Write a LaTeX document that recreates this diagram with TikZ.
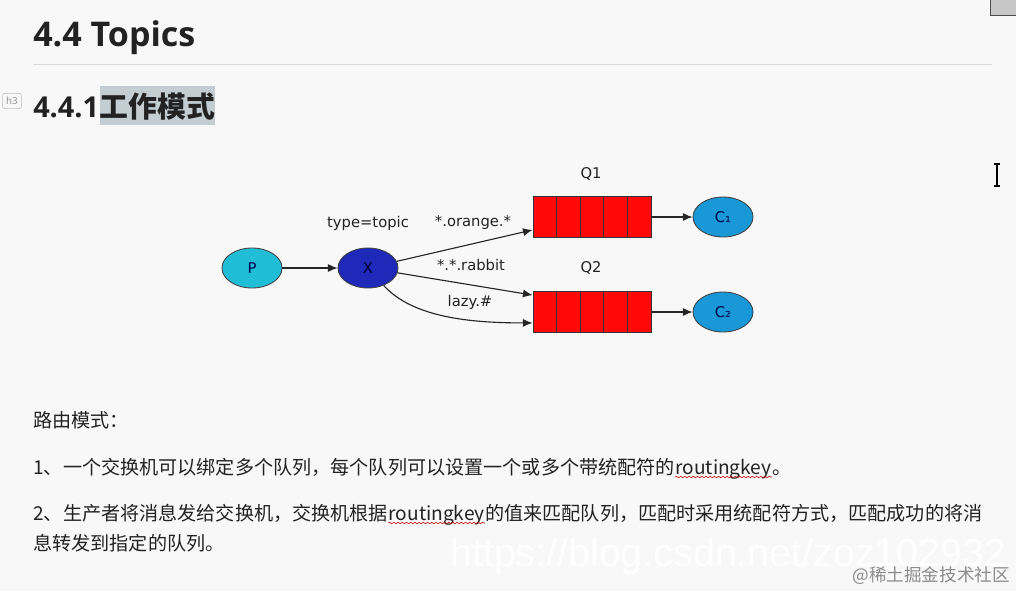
\documentclass[tikz,border=0pt]{standalone}
\usepackage{fontspec}
\setmainfont{Open Sans}
\newfontfamily\cjkfont{Noto Sans CJK SC}
\newfontfamily\diafont{DejaVu Sans}
\newfontfamily\wmfont{Liberation Sans}
\usepackage{tikz}
\usetikzlibrary{arrows,arrows.meta,shapes,calc,decorations.pathmorphing}
\usepackage{xcolor}
\definecolor{pagebg}{RGB}{248,248,248}
\definecolor{hlgray}{RGB}{196,205,210}
\definecolor{pcol}{RGB}{32,190,214}
\definecolor{xcol}{RGB}{30,40,185}
\definecolor{ccol}{RGB}{24,152,214}
\definecolor{qred}{RGB}{255,8,8}
\definecolor{inkcol}{RGB}{34,34,34}

\begin{document}
\begin{tikzpicture}[x=0.25mm, y=-0.25mm, >={Latex[length=2.4mm,width=2mm]},
  main node/.style={ellipse, draw=black!75, line width=0.6pt, minimum width=15mm, minimum height=10mm, inner sep=0pt, font=\diafont\fontsize{10.5}{12}\selectfont},
  queue/.style={rectangle, draw=black!80, line width=0.6pt, fill=qred, minimum width=29.5mm, minimum height=10.25mm, inner sep=0pt},
  lbl/.style={font=\diafont\fontsize{10.5}{13}\selectfont, text=inkcol, inner sep=0pt},
  head/.style={font=\bfseries\fontsize{24.2}{28}\selectfont, text=inkcol, anchor=base west, inner sep=0pt},
  subhead/.style={font=\bfseries\fontsize{20.5}{25}\selectfont, text=inkcol, anchor=base west, inner sep=0pt},
  line/.style={font=\cjkfont\fontsize{13.6}{16}\selectfont, text=inkcol, anchor=base west, inner sep=0pt},
  squiggle/.style={red!75!black, line width=0.4pt, decorate, decoration={snake, amplitude=0.5pt, segment length=3pt}}]
\useasboundingbox[fill=pagebg] (0,0) rectangle (1016,591);

% page header
\node[head] (h44) at (33,46) {4.4 Topics};
\draw[black!15, line width=0.6pt] (33,64) -- (992,64);
\node[draw=black!25, rounded corners=1.5pt, minimum width=4.7mm, minimum height=3.8mm, inner sep=0pt, text=black!45, font=\fontsize{7}{8}\selectfont] (tag) at (12,101) {h3};
\node[subhead] (h441) at (33,117) {4.4.1};
\node[subhead, font=\cjkfont\bfseries\fontsize{20.5}{25}\selectfont, fill=hlgray, text height=7.75mm, text depth=2mm] (hcn) at (h441.base east) {工作模式};

% window bits
\draw[fill=black!22, draw=black!70, line width=0.6pt] (990,-2) rectangle (1018,15);
\draw[line width=1pt] (997,165) -- (997,185) (994,164) -- (1000,164) (994,186) -- (1000,186);

% diagram
\node[main node, fill=pcol, text=black!70!blue] (p) at (252,268) {P};
\node[main node, fill=xcol, text=black!80!blue] (x) at (368,268) {X};
\node[queue] (q1) at (592,217) {};
\node[queue] (q2) at (592,312) {};
\foreach \q in {q1,q2}{
  \foreach \i in {1,...,4}{
    \draw[black!80, line width=0.6pt] ($(\q.north west)!\i/5!(\q.north east)$) -- ($(\q.south west)!\i/5!(\q.south east)$);
  }
}
\node[main node, fill=ccol, text=black!70!blue] (c1) at (723,217) {C₁};
\node[main node, fill=ccol, text=black!70!blue] (c2) at (723,312) {C₂};
\coordinate (q1in) at ($(q1.south west)+(0,-8)$);
\coordinate (q2top) at ($(q2.north west)+(0,4)$);
\coordinate (q2bot) at ($(q2.south west)+(0,-10)$);

\node[lbl] (tt) at (368,223) {type=topic};
\node[lbl] (k1) at (473,223) {*.orange.*};
\node[lbl] (k2) at (471,265) {*.*.rabbit};
\node[lbl] (k3) at (470,302) {lazy.\#};
\node[lbl] (l1) at (591,174) {Q1};
\node[lbl] (l2) at (591,268) {Q2};

\path[->, black!85, line width=0.8pt]
(p) edge (x)
(x) edge (q1in)
(x) edge (q2top)
(q1) edge (c1)
(q2) edge (c2);
\draw[->, black!85, line width=0.8pt] (x) .. controls +(45,50) and +(-60,0) .. (q2bot);

% text below
\node[line] (t0) at (33,427) {路由模式：};
\node[line] (t1a) at (33,474) {1、一个交换机可以绑定多个队列，每个队列可以设置一个或多个带统配符的};
\node[line] (t1b) at (t1a.base east) {routingkey};
\node[line] (t1c) at (t1b.base east) {。};
\node[line] (t2a) at (33,520) {2、生产者将消息发给交换机，交换机根据};
\node[line] (t2b) at (t2a.base east) {routingkey};
\node[line] (t2c) at (t2b.base east) {的值来匹配队列，匹配时采用统配符方式，匹配成功的将消};
\node[line] (t3) at (33,550) {息转发到指定的队列。};
\draw[squiggle] ($(t1b.base west)+(0,3)$) -- ($(t1b.base east)+(0,3)$);
\draw[squiggle] ($(t2b.base west)+(0,3)$) -- ($(t2b.base east)+(0,3)$);

% watermarks
\node[anchor=base west, inner sep=0pt, text=white, opacity=0.9, font=\wmfont\fontsize{28}{32}\selectfont] (wm) at (450,566) {https://blog.csdn.net/zoz102932};
\node[anchor=base east, inner sep=0pt, text=black!45, font=\cjkfont\fontsize{12.5}{14}\selectfont] (wm2) at (1010,581) {@稀土掘金技术社区};
\end{tikzpicture}
\end{document}
